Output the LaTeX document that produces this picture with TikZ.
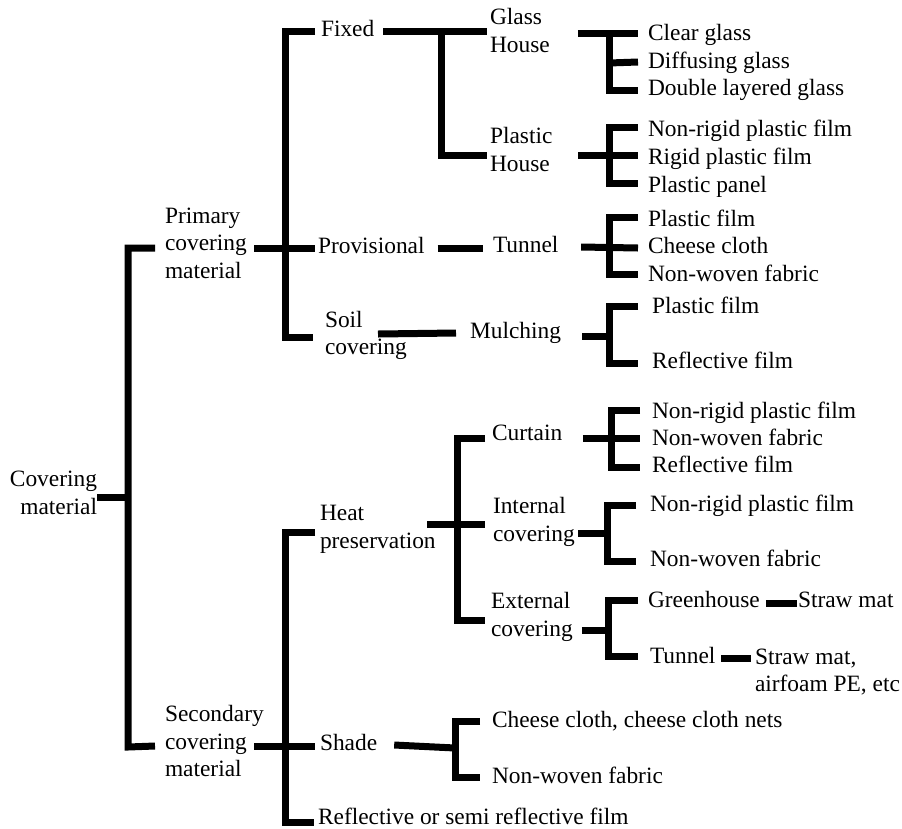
\documentclass[tikz,border=0pt]{standalone}
\usepackage{fontspec}
\setmainfont{Liberation Serif}
\usetikzlibrary{calc}
\tikzset{
  lbl/.style={anchor=west, inner sep=0pt, outer sep=0pt, align=left,
    font=\fontsize{23.4}{27.5}\selectfont,
    execute at begin node=\strut, execute at end node=\strut},
  lblr/.style={lbl, anchor=east, align=right},
  ln/.style={line width=7pt, line join=miter},
}
\begin{document}
\begin{tikzpicture}[x=1pt, y=-1pt]
\useasboundingbox (0,0) rectangle (902,828);
% ---------- text nodes ----------
\node[lblr] (cov) at (97,497) {Covering\\material};
\node[lbl] (pri) at (165,247) {Primary\\covering\\material};
\node[lbl] (sec) at (165,745) {Secondary\\covering\\material};
\node[lbl] (fix) at (321,31) {Fixed};
\node[lbl] (prov) at (318,248) {Provisional};
\node[lbl] (soil) at (325,337) {Soil\\covering};
\node[lbl] (gh) at (490,34.5) {Glass\\House};
\node[lbl] (ph) at (490,153.5) {Plastic\\House};
\node[lbl] (tun) at (493,247) {Tunnel};
\node[lbl] (mul) at (470,333) {Mulching};
\node[lbl] (g1) at (648,35) {Clear glass};
\node[lbl] (g2) at (648,63) {Diffusing glass};
\node[lbl] (g3) at (648,90) {Double layered glass};
\node[lbl] (p1) at (648,131) {Non-rigid plastic film};
\node[lbl] (p2) at (648,159) {Rigid plastic film};
\node[lbl] (p3) at (648,187) {Plastic panel};
\node[lbl] (t1) at (648,221) {Plastic film};
\node[lbl] (t2) at (648,248) {Cheese cloth};
\node[lbl] (t3) at (648,276) {Non-woven fabric};
\node[lbl] (m1) at (652,308) {Plastic film};
\node[lbl] (m2) at (652,363) {Reflective film};
\node[lbl] (heat) at (320,531) {Heat\\preservation};
\node[lbl] (shade) at (320,745) {Shade};
\node[lbl, anchor=base west, execute at begin node={}, execute at end node={}]
  (refl) at (318,824) {Reflective or semi reflective film};
\node[lbl] (cur) at (492,435) {Curtain};
\node[lbl] (int) at (493,523.5) {Internal\\covering};
\node[lbl] (ext) at (491,618.5) {External\\covering};
\node[lbl] (c1) at (652,413) {Non-rigid plastic film};
\node[lbl] (c2) at (652,440) {Non-woven fabric};
\node[lbl] (c3) at (652,467) {Reflective film};
\node[lbl] (i1) at (650,506) {Non-rigid plastic film};
\node[lbl] (i2) at (650,561) {Non-woven fabric};
\node[lbl] (e1) at (648,602) {Greenhouse};
\node[lbl] (e2) at (650,658) {Tunnel};
\node[lbl] (s1) at (798,602) {Straw mat};
\node[lbl] (s2) at (755,674.5) {Straw mat,\\airfoam PE, etc};
\node[lbl] (sh1) at (492,722) {Cheese cloth, cheese cloth nets};
\node[lbl] (sh2) at (492,778) {Non-woven fabric};
% ---------- bracket joints ----------
\coordinate (A1) at (128,248);  \coordinate (A2) at (128,747);
\coordinate (B1) at (285,31);   \coordinate (B2) at (285,337);
\coordinate (B3) at (285,532);  \coordinate (B4) at (285,822);
\coordinate (C1) at (441,31);   \coordinate (C2) at (441,155);
\coordinate (D1) at (609,33);   \coordinate (D2) at (609,90);
\coordinate (D3) at (609,127);  \coordinate (D4) at (609,183);
\coordinate (D5) at (609,217);  \coordinate (D6) at (609,274);
\coordinate (D7) at (609,306);  \coordinate (D8) at (609,363);
\coordinate (E1) at (457,438);  \coordinate (E2) at (457,620);
\coordinate (F1) at (611,410);  \coordinate (F2) at (611,467);
\coordinate (F3) at (607,505);  \coordinate (F4) at (607,561);
\coordinate (F5) at (608,600);  \coordinate (F6) at (608,656);
\coordinate (G1) at (455,721);  \coordinate (G2) at (455,777);
% ---------- connectors ----------
% root
\draw[ln] (cov.east) -- (cov.east -| A1);
\draw[ln] ($(pri.west)+(-10,1)$) -- (A1) -- (A2) -- ($(sec.west)+(-10,1)$);
% primary
\draw[ln] ($(fix.west)+(-6,0)$) -- (B1) -- (B2) -- ($(soil.west)+(-12,0)$);
\draw[ln] ($(pri.west)+(89,1)$) -- ($(prov.west)+(-3,0)$);
% fixed
\draw[ln] ($(fix.east)+(9,0)$) -- ($(gh.west)+(-3,-3.5)$);
\draw[ln] (C1) -- (C2) -- ($(ph.west)+(-3,1.5)$);
% provisional, soil
\draw[ln] ($(prov.east)+(13,0)$) -- ($(tun.west)+(-10,1)$);
\draw[ln] ($(soil.west)+(53,-3)$) -- ($(mul.west)+(-14,0)$);
% glass house
\draw[ln] ($(gh.east)+(28,-1.5)$) -- ($(g1.west)+(-10,-2)$);
\draw[ln] (D1) -- (D2) -- ($(g3.west)+(-10,0)$);
\draw[ln] (D1 |- g2.west) -- ($(g2.west)+(-10,-1)$);
% plastic house
\draw[ln] ($(ph.east)+(25.6,1.5)$) -- ($(p2.west)+(-10,-4)$);
\draw[ln] ($(p1.west)+(-10,-4)$) -- (D3) -- (D4) -- ($(p3.west)+(-10,-4)$);
% tunnel
\draw[ln] ($(tun.east)+(22.7,0)$) -- ($(t2.west)+(-10,0)$);
\draw[ln] ($(t1.west)+(-10,-4)$) -- (D5) -- (D6) -- ($(t3.west)+(-10,-2)$);
% mulching
\draw[ln] ($(mul.east)+(21,3)$) -- (D7 |- 0,336);
\draw[ln] ($(m1.west)+(-14,-2)$) -- (D7) -- (D8) -- ($(m2.west)+(-14,0)$);
% secondary
\draw[ln] ($(sec.west)+(89,1)$) -- ($(shade.west)+(-5,1)$);
\draw[ln] ($(heat.west)+(-5,1)$) -- (B3) -- (B4) -- ($(refl.west |- B4)+(-4,0)$);
% heat preservation
\draw[ln] ($(heat.west)+(107,-7)$) -- ($(int.west)+(-8,0.5)$);
\draw[ln] ($(cur.west)+(-7,3)$) -- (E1) -- (E2) -- ($(ext.west)+(-6,1.5)$);
% curtain
\draw[ln] ($(cur.east)+(20.8,3)$) -- ($(c2.west)+(-12,-2)$);
\draw[ln] ($(c1.west)+(-12,-3)$) -- (F1) -- (F2) -- ($(c3.west)+(-12,0)$);
% internal covering
\draw[ln] ($(int.east)+(3,9.5)$) -- (F3 |- 0,533);
\draw[ln] ($(i1.west)+(-14,-1)$) -- (F3) -- (F4) -- ($(i2.west)+(-14,0)$);
% external covering
\draw[ln] ($(ext.east)+(9,11.5)$) -- (F5 |- 0,630);
\draw[ln] ($(e1.west)+(-10,-2)$) -- (F5) -- (F6) -- ($(e2.west)+(-12,-2)$);
\draw[ln] ($(e1.east)+(6,1)$) -- ($(s1.west)+(-1,1)$);
\draw[ln] ($(e2.east)+(6,0)$) -- ($(s2.west)+(-4,-16.5)$);
% shade
\draw[ln] ($(shade.east)+(17,0)$) -- (G1 |- 0,748);
\draw[ln] ($(sh1.west)+(-12,-1)$) -- (G1) -- (G2) -- ($(sh2.west)+(-12,-1)$);
\end{tikzpicture}
\end{document}
